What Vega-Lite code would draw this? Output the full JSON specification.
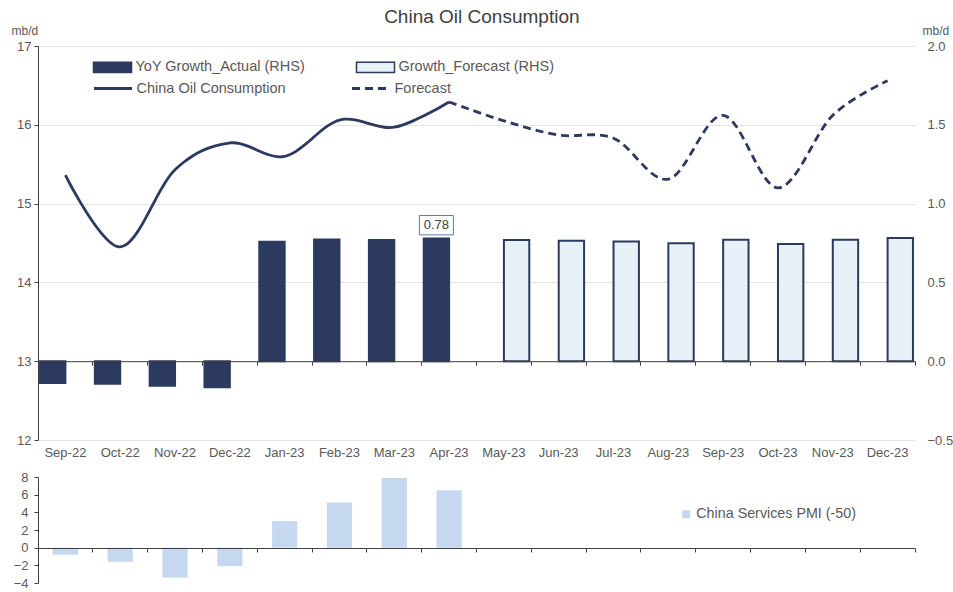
{
  "$schema": "https://vega.github.io/schema/vega-lite/v6.json",
  "background": "white",
  "padding": {"left": 11, "top": 8, "right": 5, "bottom": 5},
  "config": {
    "font": "Liberation Sans",
    "view": {"stroke": null},
    "axis": {"labelColor": "#595959", "labelFontSize": 13, "titleColor": "#595959", "titleFontWeight": "normal", "titleFontSize": 12, "domainColor": "#404040", "tickColor": "#404040", "gridColor": "#e3e3e3"},
    "legend": {"labelColor": "#595959", "labelFont": "Liberation Sans", "labelLimit": 400}
  },
  "title": {"text": "China Oil Consumption", "fontSize": 19, "fontWeight": "normal", "color": "#404040", "anchor": "middle", "offset": -3},
  "resolve": {"scale": {"color": "independent"}, "legend": {"color": "independent"}},
  "datasets": {
    "growth": [
      {"month": "Sep-22", "type": "YoY Growth_Actual (RHS)", "value": -0.138},
      {"month": "Oct-22", "type": "YoY Growth_Actual (RHS)", "value": -0.143},
      {"month": "Nov-22", "type": "YoY Growth_Actual (RHS)", "value": -0.155},
      {"month": "Dec-22", "type": "YoY Growth_Actual (RHS)", "value": -0.166},
      {"month": "Jan-23", "type": "YoY Growth_Actual (RHS)", "value": 0.758},
      {"month": "Feb-23", "type": "YoY Growth_Actual (RHS)", "value": 0.773},
      {"month": "Mar-23", "type": "YoY Growth_Actual (RHS)", "value": 0.769},
      {"month": "Apr-23", "type": "YoY Growth_Actual (RHS)", "value": 0.779},
      {"month": "May-23", "type": "Growth_Forecast (RHS)", "value": 0.769},
      {"month": "Jun-23", "type": "Growth_Forecast (RHS)", "value": 0.765},
      {"month": "Jul-23", "type": "Growth_Forecast (RHS)", "value": 0.76},
      {"month": "Aug-23", "type": "Growth_Forecast (RHS)", "value": 0.748},
      {"month": "Sep-23", "type": "Growth_Forecast (RHS)", "value": 0.771},
      {"month": "Oct-23", "type": "Growth_Forecast (RHS)", "value": 0.744},
      {"month": "Nov-23", "type": "Growth_Forecast (RHS)", "value": 0.771},
      {"month": "Dec-23", "type": "Growth_Forecast (RHS)", "value": 0.782}
    ],
    "cons": [
      {"month": "Sep-22", "series": "China Oil Consumption", "value": 15.36},
      {"month": "Oct-22", "series": "China Oil Consumption", "value": 14.45},
      {"month": "Nov-22", "series": "China Oil Consumption", "value": 15.43},
      {"month": "Dec-22", "series": "China Oil Consumption", "value": 15.77},
      {"month": "Jan-23", "series": "China Oil Consumption", "value": 15.6},
      {"month": "Feb-23", "series": "China Oil Consumption", "value": 16.06},
      {"month": "Mar-23", "series": "China Oil Consumption", "value": 15.97},
      {"month": "Apr-23", "series": "China Oil Consumption", "value": 16.29},
      {"month": "Apr-23", "series": "Forecast", "value": 16.29},
      {"month": "May-23", "series": "Forecast", "value": 16.05},
      {"month": "Jun-23", "series": "Forecast", "value": 15.87},
      {"month": "Jul-23", "series": "Forecast", "value": 15.83},
      {"month": "Aug-23", "series": "Forecast", "value": 15.31},
      {"month": "Sep-23", "series": "Forecast", "value": 16.12},
      {"month": "Oct-23", "series": "Forecast", "value": 15.2},
      {"month": "Nov-23", "series": "Forecast", "value": 16.12},
      {"month": "Dec-23", "series": "Forecast", "value": 16.56}
    ],
    "pmi": [
      {"month": "Sep-22", "value": -0.8},
      {"month": "Oct-22", "value": -1.6},
      {"month": "Nov-22", "value": -3.4},
      {"month": "Dec-22", "value": -2.1},
      {"month": "Jan-23", "value": 3.0},
      {"month": "Feb-23", "value": 5.1},
      {"month": "Mar-23", "value": 7.9},
      {"month": "Apr-23", "value": 6.5}
    ]
  },
  "spacing": 12,
  "vconcat": [
    {
      "width": 877,
      "height": 394,
      "resolve": {"scale": {"y": "independent"}, "axis": {"x": "independent", "y": "independent"}},
      "layer": [
        {
          "data": {"name": "cons"},
          "mark": {"type": "line", "interpolate": "cardinal", "strokeWidth": 2.8, "color": "#2b3a5e"},
          "encoding": {
            "x": {"field": "month", "type": "nominal", "sort": null,
              "scale": {"domain": ["Sep-22","Oct-22","Nov-22","Dec-22","Jan-23","Feb-23","Mar-23","Apr-23","May-23","Jun-23","Jul-23","Aug-23","Sep-23","Oct-23","Nov-23","Dec-23"], "paddingInner": 0, "paddingOuter": 0},
              "axis": {"orient": "bottom", "offset": -78.8, "labels": false, "ticks": true, "tickSize": 4, "bandPosition": 1, "tickExtra": true, "domain": true, "grid": false, "title": null, "zindex": 1}},
            "y": {"field": "value", "type": "quantitative",
              "scale": {"domain": [12, 17], "nice": false, "zero": false},
              "axis": {"orient": "left", "values": [12, 13, 14, 15, 16, 17], "grid": true, "tickSize": 4, "labelPadding": 3, "title": "mb/d", "titleAngle": 0, "titleAlign": "left", "titleBaseline": "alphabetic", "titleX": -27, "titleY": -12}},
            "strokeDash": {"field": "series", "type": "nominal",
              "scale": {"domain": ["China Oil Consumption", "Forecast"], "range": [[10, 0], [8, 5]]},
              "legend": {"orient": "none", "legendX": 54.5, "legendY": 22, "direction": "horizontal", "columns": 2, "columnPadding": 59, "title": null, "symbolType": "stroke", "symbolSize": 1444, "symbolStrokeWidth": 3, "symbolStrokeColor": "#2b3a5e", "labelFontSize": 14.5, "labelOffset": 3, "padding": 0}},
            "order": {"value": null}
          }
        },
        {
          "data": {"name": "growth"},
          "mark": {"type": "bar", "stroke": "#2b3a5e", "strokeWidth": 2},
          "encoding": {
            "x": {"field": "month", "type": "nominal", "sort": null,
              "scale": {"domain": ["Sep-22","Oct-22","Nov-22","Dec-22","Jan-23","Feb-23","Mar-23","Apr-23","May-23","Jun-23","Jul-23","Aug-23","Sep-23","Oct-23","Nov-23","Dec-23"], "paddingInner": 0, "paddingOuter": 0},
              "axis": {"orient": "bottom", "labels": true, "ticks": false, "domain": false, "grid": false, "labelPadding": 6, "labelAngle": 0, "title": null}},
            "xOffset": {"field": "type", "type": "nominal", "scale": {"domain": ["YoY Growth_Actual (RHS)", "Growth_Forecast (RHS)"], "paddingInner": 0, "paddingOuter": 0.08}},
            "y": {"field": "value", "type": "quantitative",
              "scale": {"domain": [-0.5, 2], "nice": false, "zero": false},
              "axis": {"orient": "right", "values": [-0.5, 0, 0.5, 1, 1.5, 2], "format": ".1f", "grid": false, "domain": false, "ticks": false, "labelPadding": 12, "title": "mb/d", "titleAngle": 0, "titleAlign": "left", "titleBaseline": "alphabetic", "titleX": 7, "titleY": -12}},
            "color": {"field": "type", "type": "nominal",
              "scale": {"domain": ["YoY Growth_Actual (RHS)", "Growth_Forecast (RHS)"], "range": ["#2b3a5e", "#e8f0f8"]},
              "legend": {"orient": "none", "legendX": 54.5, "legendY": 1, "direction": "horizontal", "columns": 2, "columnPadding": 48, "title": null, "symbolType": "M-1,-0.27H1V0.27H-1Z", "symbolSize": 1444, "symbolStrokeWidth": 1.5, "symbolStrokeColor": "#2b3a5e", "symbolOpacity": 1, "labelFontSize": 14.5, "labelOffset": 3, "padding": 0}}
          }
        },
        {
          "data": {"name": "growth"},
          "transform": [{"filter": "datum.month == 'Apr-23'"}],
          "mark": {"type": "point", "shape": "M-1,-1.35H1V-0.21H-1Z", "size": 1156, "filled": true, "fill": "white", "stroke": "#5b7bab", "strokeWidth": 1, "opacity": 1},
          "encoding": {
            "x": {"field": "month", "type": "nominal", "sort": null, "axis": null,
              "scale": {"domain": ["Sep-22","Oct-22","Nov-22","Dec-22","Jan-23","Feb-23","Mar-23","Apr-23","May-23","Jun-23","Jul-23","Aug-23","Sep-23","Oct-23","Nov-23","Dec-23"], "paddingInner": 0, "paddingOuter": 0}},
            "xOffset": {"field": "type", "type": "nominal", "scale": {"domain": ["YoY Growth_Actual (RHS)", "Growth_Forecast (RHS)"], "paddingInner": 0, "paddingOuter": 0.08}},
            "y": {"field": "value", "type": "quantitative", "axis": null, "scale": {"domain": [-0.5, 2], "nice": false, "zero": false}}
          }
        },
        {
          "data": {"name": "growth"},
          "transform": [{"filter": "datum.month == 'Apr-23'"}],
          "mark": {"type": "text", "dy": -13.5, "baseline": "middle", "align": "center", "fontSize": 13, "color": "#404040"},
          "encoding": {
            "x": {"field": "month", "type": "nominal", "sort": null, "axis": null,
              "scale": {"domain": ["Sep-22","Oct-22","Nov-22","Dec-22","Jan-23","Feb-23","Mar-23","Apr-23","May-23","Jun-23","Jul-23","Aug-23","Sep-23","Oct-23","Nov-23","Dec-23"], "paddingInner": 0, "paddingOuter": 0}},
            "xOffset": {"field": "type", "type": "nominal", "scale": {"domain": ["YoY Growth_Actual (RHS)", "Growth_Forecast (RHS)"], "paddingInner": 0, "paddingOuter": 0.08}},
            "y": {"field": "value", "type": "quantitative", "axis": null, "scale": {"domain": [-0.5, 2], "nice": false, "zero": false}},
            "text": {"field": "value", "type": "quantitative", "format": ".2f"}
          }
        }
      ]
    },
    {
      "width": 877,
      "height": 106,
      "data": {"name": "pmi"},
      "mark": {"type": "bar", "width": {"band": 0.46}},
      "encoding": {
        "x": {"field": "month", "type": "nominal", "sort": null,
          "scale": {"domain": ["Sep-22","Oct-22","Nov-22","Dec-22","Jan-23","Feb-23","Mar-23","Apr-23","May-23","Jun-23","Jul-23","Aug-23","Sep-23","Oct-23","Nov-23","Dec-23"], "paddingInner": 0, "paddingOuter": 0},
          "axis": {"orient": "bottom", "offset": -35, "labels": false, "ticks": true, "tickSize": 4, "bandPosition": 1, "tickExtra": true, "domain": true, "grid": false, "title": null, "zindex": 1}},
        "y": {"field": "value", "type": "quantitative",
          "scale": {"domain": [-4, 8], "nice": false},
          "axis": {"values": [-4, -2, 0, 2, 4, 6, 8], "grid": false, "tickSize": 4, "labelPadding": 6, "title": null}},
        "color": {"datum": "China Services PMI (-50)", "type": "nominal",
          "scale": {"domain": ["China Services PMI (-50)"], "range": ["#c6d8ef"]},
          "legend": {"orient": "none", "legendX": 641, "legendY": 30, "title": null, "symbolType": "square", "symbolSize": 64, "symbolStrokeWidth": 0, "symbolOpacity": 1, "labelFontSize": 14.3, "labelOffset": 3, "padding": 0}}
      }
    }
  ]
}
